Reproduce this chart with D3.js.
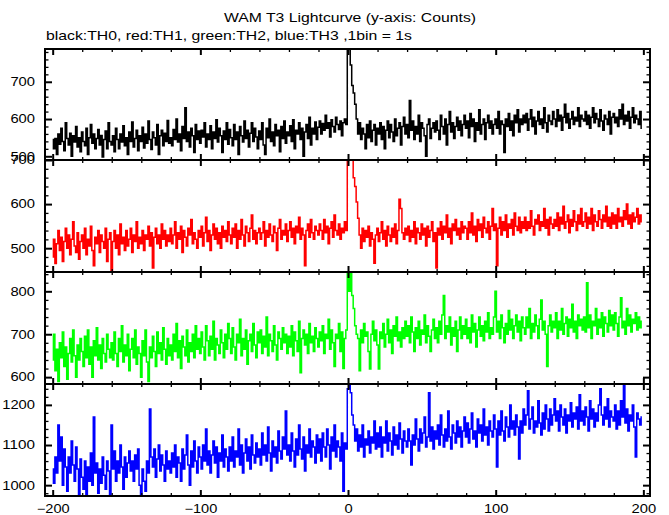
<!DOCTYPE html>
<html><head><meta charset="utf-8">
<script src="https://cdn.jsdelivr.net/npm/d3@7/dist/d3.min.js"></script>
<style>body{margin:0;background:#fff}svg{display:block}</style>
</head><body>
<svg id="c" width="669" height="515"></svg>
<script>
// time bins (1 bin = 1 s), -200 .. 199
const times = d3.range(-200, 200);

const titleText = "WAM T3 Lightcurve (y-axis: Counts)";
const subtitleText = "black:TH0, red:TH1, green:TH2, blue:TH3 ,1bin = 1s";

const xMajorTicks = [-200, -100, 0, 100, 200];

// TH0 (black)
const th0 = [
545,520,548,505,560,532,575,540,515,590,548,530,562,500,555,538,580,525,550,512,
565,540,528,575,505,550,585,535,560,520,548,572,530,556,498,545,568,520,590,540,
530,555,512,575,545,520,560,538,582,528,550,505,565,540,592,525,548,570,515,555,
540,578,522,560,535,595,545,518,565,550,530,585,505,555,570,528,562,540,596,535,
550,528,572,545,600,538,560,515,580,548,630,540,565,525,575,555,510,585,545,568,
535,570,552,590,525,560,545,582,520,565,548,598,538,575,555,510,568,545,590,532,
572,550,528,585,545,565,505,580,555,538,595,548,570,525,562,590,540,575,552,520,
568,545,590,530,505,575,550,600,540,565,528,585,555,570,512,580,548,595,535,565,
555,582,540,598,520,570,560,590,545,575,500,565,585,548,605,530,575,560,592,545,
578,595,560,588,570,610,575,590,552,598,580,565,605,585,572,595,555,590,600,585,
800,800,745,690,670,640,600,560,590,545,575,560,520,585,550,595,540,570,585,530,
575,560,590,545,580,520,570,595,550,585,565,540,600,555,575,590,530,580,605,560,
585,550,650,570,595,545,580,560,610,540,590,575,555,500,585,600,548,575,590,565,
595,570,545,610,580,560,600,530,585,620,565,590,548,580,605,570,595,555,585,610,
575,595,550,615,580,600,540,590,570,625,560,585,600,545,590,610,575,595,560,585,
600,575,620,560,595,585,510,600,580,615,570,595,555,610,590,625,565,600,585,610,
590,615,570,600,625,580,605,560,595,620,585,600,575,630,590,565,610,595,585,620,
600,580,625,595,610,570,605,640,590,615,575,600,620,585,605,595,630,580,610,600,
595,620,585,610,575,605,630,590,615,600,580,625,595,570,610,600,585,620,560,605,
615,590,605,580,625,600,640,585,610,595,620,575,605,630,590,610,600,585,620,575
];

// TH1 (red)
const th1 = [
480,520,465,510,540,495,525,470,515,545,500,530,485,520,560,505,490,535,475,515,
530,500,545,485,520,505,550,495,460,525,510,540,490,530,515,500,545,470,520,535,
450,515,540,500,530,485,555,510,525,495,540,505,520,545,490,530,515,560,500,525,
510,540,495,530,520,550,505,535,455,525,545,510,530,500,555,520,540,505,530,515,
545,510,530,560,500,535,520,550,490,540,525,505,545,530,565,510,535,520,500,540,
525,550,505,535,570,515,540,495,530,555,520,545,510,535,500,550,525,540,515,560,
530,510,545,525,555,500,540,520,565,530,505,550,535,515,545,575,520,540,510,535,
545,520,535,560,505,540,525,555,530,515,550,535,495,545,565,520,540,530,555,515,
540,560,525,545,510,550,535,570,520,545,530,460,540,555,525,565,535,520,550,540,
530,555,540,520,565,535,550,510,545,560,525,575,540,530,555,520,545,535,560,540,
720,720,720,715,660,640,605,568,530,500,545,515,540,525,550,505,535,520,466,530,
545,515,535,560,520,540,505,550,530,515,545,525,555,510,540,611,590,535,520,545,
530,550,515,540,525,560,510,545,535,520,555,530,545,505,550,525,540,560,515,535,
455,545,530,560,520,550,535,575,525,545,510,555,540,565,530,545,520,560,535,550,
545,520,560,535,580,530,550,515,565,540,555,525,570,545,535,560,520,550,590,540,
555,460,545,570,530,560,540,575,525,555,545,565,530,580,550,540,570,535,560,545,
570,540,560,545,585,550,530,565,555,575,540,560,550,590,545,565,530,570,555,545,
565,550,580,540,570,555,595,545,560,575,535,565,550,585,560,540,575,555,590,550,
560,580,545,570,555,590,540,575,560,550,585,565,545,575,560,595,550,570,545,580,
555,575,545,590,560,570,550,585,565,600,555,575,545,580,560,570,590,555,575,560
];

// TH2 (green)
const th2 = [
640,700,615,665,590,680,645,705,625,670,595,655,690,635,710,650,600,675,640,690,
660,625,695,645,710,630,670,600,685,650,715,640,675,620,690,655,635,700,665,645,
680,640,705,655,625,690,660,720,635,675,650,700,615,665,690,645,710,630,670,655,
600,685,650,710,635,590,670,645,695,660,625,705,655,680,640,715,665,630,690,650,
675,640,700,660,725,645,685,620,695,670,650,710,635,680,660,700,645,720,665,690,
655,705,670,640,720,685,650,695,665,730,640,690,675,655,710,680,645,700,665,725,
690,655,715,670,640,700,680,735,650,690,665,710,630,685,700,660,725,675,645,705,
680,710,655,695,670,740,650,700,685,660,720,675,640,705,690,665,715,680,700,655,
695,670,720,650,705,685,660,730,610,690,710,675,700,655,725,680,695,660,715,690,
670,705,685,720,655,700,690,735,665,710,680,625,700,690,725,660,705,620,690,710,
850,800,845,790,760,720,700,690,615,710,680,725,695,705,660,619,700,730,685,710,
675,619,705,690,725,670,700,735,680,710,655,720,695,740,685,705,670,715,690,730,
695,720,680,740,705,660,715,690,730,675,710,700,745,680,720,695,660,710,735,690,
715,680,730,700,745,790,690,720,705,740,675,715,695,730,660,710,740,690,720,700,
735,690,715,680,745,705,725,670,710,740,695,720,685,730,705,750,690,715,700,740,
800,705,730,690,745,715,680,725,700,755,710,735,690,720,745,705,730,685,740,715,
700,740,715,760,690,725,705,745,720,690,735,780,710,730,700,625,720,745,705,730,
715,750,690,730,710,760,700,725,740,695,735,715,770,705,730,690,745,720,735,710,
740,705,820,715,745,690,730,720,760,700,735,715,750,695,740,725,705,755,720,745,
710,750,725,695,740,785,715,730,700,760,720,745,705,735,725,750,710,740,715,730
];

// TH3 (blue)
const th3 = [
1040,1005,1070,1030,1150,1060,1120,1000,1090,1045,985,1070,1030,1110,1050,1010,1095,1040,975,1065,
1020,990,1060,975,1045,1010,1080,1000,1170,1030,1055,980,1040,1005,1070,1025,990,1060,1035,975,
1150,1040,1085,1010,1060,1030,1100,1045,990,1070,1020,1055,1085,1035,1060,1010,1075,1040,1090,1000,
975,1040,1010,985,1060,1030,1190,1070,1045,1090,1020,1065,1100,1035,1075,1050,1010,1085,1040,1060,
1030,1080,1045,1100,1020,1070,1055,1010,1090,1040,1075,1125,1050,1000,1085,1045,1110,1060,1030,1095,
1070,1040,1100,1060,1140,1050,1085,1030,1075,1110,1055,1095,1020,1080,1060,1125,1045,1090,1070,1035,
1095,1060,1120,1045,1085,1070,1140,1050,1100,1030,1080,1115,1060,1095,1040,1125,1075,1055,1105,1070,
1090,1050,1130,1075,1100,1060,1145,1080,1035,1110,1070,1095,1055,1135,1085,1065,1120,1090,1185,1075,
1100,1060,1130,1085,1045,1115,1075,1150,1090,1065,1120,1035,1100,1080,1140,1070,1110,1095,1055,1125,
1080,1115,1060,1130,1095,1070,1140,1100,1040,1120,1085,1150,1070,1110,1095,1060,1130,985,1105,1090,
1240,1250,1230,1175,1150,1110,1140,1085,1125,1095,1150,1070,1115,1100,1135,1080,1120,1105,1160,1090,
1130,1095,1145,1070,1120,1105,1160,1085,1130,1110,1075,1145,1100,1125,1090,1155,1115,1080,1135,1110,
1095,1140,1110,1050,1125,1100,1165,1115,1085,1140,1105,1130,1170,1095,1120,1230,1110,1145,1090,1135,
1115,1150,1100,1175,1125,1095,1140,1110,1185,1120,1090,1150,1130,1105,1160,1120,1145,1095,1135,1170,
1120,1155,1105,1140,1180,1115,1135,1095,1165,1130,1150,1110,1190,1125,1145,1100,1160,1135,1120,1175,
1140,1045,1160,1125,1185,1135,1110,1170,1145,1120,1200,1140,1160,1125,1175,1145,1065,1160,1130,1190,
1150,1175,1235,1140,1165,1195,1130,1160,1145,1210,1155,1125,1180,1140,1200,1165,1135,1190,1150,1175,
1215,1160,1185,1135,1200,1170,1150,1190,1130,1175,1160,1205,1145,1180,1165,1195,1140,1225,1160,1185,
1150,1195,1170,1135,1210,1165,1190,1145,1180,1160,1200,1240,1175,1150,1195,1165,1215,1145,1185,1170,
1160,1200,1140,1185,1150,1210,1170,1250,1155,1190,1135,1175,1160,1200,1145,1070,1180,1165,1150,1170
];

const seriesValues = [th0, th1, th2, th3];
const seriesColors = ["#000000", "#ff0000", "#00ff00", "#0000ff"];
const yDomains = [[490, 788], [446, 700], [584, 845], [973, 1252]];
const yMajorTicks = [[500, 600, 700], [500, 600, 700], [600, 700, 800], [1000, 1100, 1200]];

// ---------- layout ----------
const W = 669, H = 515;
const left = 45, right = 650;
const panelTops = [49, 160, 272, 384];
const panelBottoms = [160, 272, 384, 496];
const FONT = "'Liberation Sans', Arial, Helvetica, sans-serif";
const DIGIT_W = 8.2;

const svg = d3.select("#c");
const x = d3.scaleLinear().domain([-205.2, 204.5]).range([left, right]);
const xMinor = d3.range(-200, 201, 20).filter(v => v % 100 !== 0);

function stretch(sel) {
  sel.each(function () {
    const t = this.textContent;
    let w = 0;
    for (const ch of t) w += (ch === "-" ? 9.5 : DIGIT_W);
    d3.select(this).attr("textLength", w).attr("lengthAdjust", "spacingAndGlyphs");
  });
}

function styleAxis(g, sw) {
  g.select(".domain").remove();
  g.selectAll("line").attr("stroke", "#000").attr("stroke-width", sw);
  g.selectAll("text").attr("fill", "#000").style("font-family", FONT).style("font-size", "12px");
}

seriesValues.forEach((vals, p) => {
  const top = panelTops[p], bot = panelBottoms[p];
  const y = d3.scaleLinear().domain(yDomains[p]).range([bot, top]);
  const g = svg.append("g");

  const cid = "clip" + p;
  svg.append("clipPath").attr("id", cid).append("rect")
    .attr("x", left).attr("y", top).attr("width", right - left).attr("height", bot - top);

  const line = d3.line()
    .x((d, i) => x(times[i]))
    .y(d => y(d))
    .curve(d3.curveStep);

  g.append("path")
    .datum(vals)
    .attr("clip-path", `url(#${cid})`)
    .attr("fill", "none")
    .attr("stroke", seriesColors[p])
    .attr("stroke-width", 1.5)
    .attr("stroke-linejoin", "miter")
    .attr("d", line);

  const yMinor = d3.range(Math.ceil(yDomains[p][0] / 20) * 20, yDomains[p][1], 20)
    .filter(v => v % 100 !== 0);

  // left axis (labels + major ticks)
  const gl = g.append("g").attr("transform", `translate(${left},0)`)
    .call(d3.axisLeft(y).tickValues(yMajorTicks[p]).tickSize(-7).tickPadding(10).tickFormat(d3.format("d")));
  styleAxis(gl, 2);
  stretch(gl.selectAll("text"));
  const glm = g.append("g").attr("transform", `translate(${left},0)`)
    .call(d3.axisLeft(y).tickValues(yMinor).tickSize(-3.5).tickFormat(""));
  styleAxis(glm, 1.3);

  // right axis (ticks only)
  const gr = g.append("g").attr("transform", `translate(${right},0)`)
    .call(d3.axisRight(y).tickValues(yMajorTicks[p]).tickSize(-7).tickFormat(""));
  styleAxis(gr, 2);
  const grm = g.append("g").attr("transform", `translate(${right},0)`)
    .call(d3.axisRight(y).tickValues(yMinor).tickSize(-3.5).tickFormat(""));
  styleAxis(grm, 1.3);

  // top axis (ticks only)
  const gt = g.append("g").attr("transform", `translate(0,${top})`)
    .call(d3.axisTop(x).tickValues(xMajorTicks).tickSize(-6).tickFormat(""));
  styleAxis(gt, 2);
  const gtm = g.append("g").attr("transform", `translate(0,${top})`)
    .call(d3.axisTop(x).tickValues(xMinor).tickSize(-3).tickFormat(""));
  styleAxis(gtm, 1.3);

  // bottom axis
  const isLast = p === seriesValues.length - 1;
  const gb = g.append("g").attr("transform", `translate(0,${bot})`)
    .call(d3.axisBottom(x).tickValues(xMajorTicks).tickSize(-6).tickPadding(8)
      .tickFormat(isLast ? d3.format("d") : ""));
  styleAxis(gb, 2);
  if (isLast) stretch(gb.selectAll("text"));
  const gbm = g.append("g").attr("transform", `translate(0,${bot})`)
    .call(d3.axisBottom(x).tickValues(xMinor).tickSize(-3).tickFormat(""));
  styleAxis(gbm, 1.3);

  // frame
  g.append("rect")
    .attr("x", left).attr("y", top).attr("width", right - left).attr("height", bot - top)
    .attr("fill", "none").attr("stroke", "#000").attr("stroke-width", 2);
});

// titles
svg.append("text")
  .attr("x", 350).attr("y", 22).attr("text-anchor", "middle")
  .attr("textLength", 252).attr("lengthAdjust", "spacingAndGlyphs")
  .style("font-family", FONT).style("font-size", "13px").attr("fill", "#000")
  .text(titleText);

svg.append("text")
  .attr("x", 46).attr("y", 40)
  .attr("textLength", 366).attr("lengthAdjust", "spacingAndGlyphs")
  .style("font-family", FONT).style("font-size", "13px").attr("fill", "#000")
  .text(subtitleText);
</script>
</body></html>
